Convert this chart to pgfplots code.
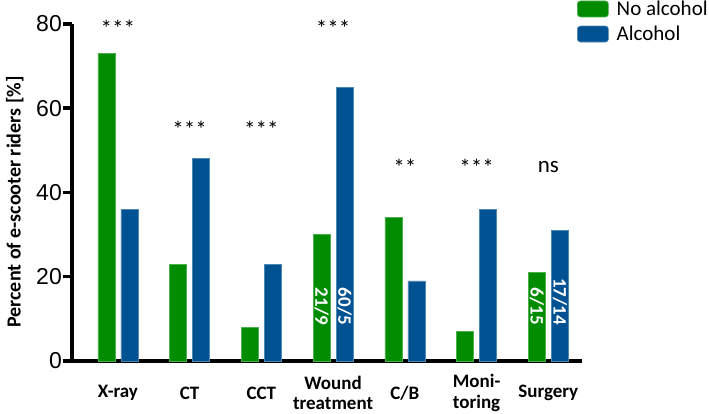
\documentclass[border=0pt]{standalone}
\usepackage{pgfplots}
\pgfplotsset{compat=1.18}
\usepackage{fontspec}
\setmainfont{Carlito}
\newfontfamily\arialfont{Liberation Sans}
\definecolor{noalc}{RGB}{0,140,0}
\definecolor{alc}{RGB}{0,82,147}
\begin{document}
\begin{tikzpicture}
\begin{axis}[
    at={(0,0)}, anchor=south west,
    scale only axis,
    width=510pt, height=337pt,
    ybar,
    bar width=17pt,
    xmin=-0.64, xmax=6.47,
    ymin=0, ymax=80,
    enlargelimits=false,
    clip=false,
    axis x line=bottom, axis y line=left,
    axis line style={line width=4.5pt, -, black},
    xtick={0,...,6},
    xticklabels={X-ray, CT, CCT, {Wound\\treatment}, C/B, {Moni-\\toring}, Surgery},
    xtick style={draw=none},
    xticklabel style={font=\bfseries\fontsize{19}{20.5}\selectfont, align=center, anchor=center, yshift=-23pt},
    ytick={0,20,40,60,80},
    tick align=outside,
    major tick length=9pt,
    ytick style={line width=3.5pt, black},
    /pgf/number format/assume math mode=true,
    yticklabel style={font=\arialfont\fontsize{23}{23}\selectfont, anchor=east, inner sep=1pt},
    ylabel={Percent of e-scooter riders [\%]},
    ylabel style={font=\bfseries\fontsize{20}{20}\selectfont, at={(axis description cs:-0.112,0.472)}, anchor=center},
    legend style={at={(axis description cs:0.99,1.075)}, anchor=north west, draw=none, fill=none,
        inner sep=0pt, font=\fontsize{21}{21}\selectfont, row sep=5pt, column sep=6pt},
    legend cell align=left,
    legend image code/.code={\draw[#1, rounded corners=3pt] (0pt,-8pt) rectangle (31pt,8pt);},
]
\addplot[fill=noalc, draw=noalc!70!white, line width=0.6pt, bar shift=-11.5pt]
    coordinates {(0,73) (1,23) (2,8) (3,30) (4,34) (5,7) (6,21)};
\addlegendentry{No alcohol}
\addplot[fill=alc, draw=alc!70!white, line width=0.6pt, bar shift=11.5pt]
    coordinates {(0,36) (1,48) (2,23) (3,65) (4,19) (5,36) (6,31)};
\addlegendentry{Alcohol}
% significance marks
\tikzset{sig/.style={font=\fontsize{23}{23}\selectfont, inner sep=0pt, anchor=center}}
\node[sig] at (axis cs:0,79) {***};
\node[sig] at (axis cs:1,55) {***};
\node[sig] at (axis cs:2,55) {***};
\node[sig] at (axis cs:3,79) {***};
\node[sig] at (axis cs:4,46) {**};
\node[sig] at (axis cs:5,46) {***};
\node[sig] at (axis cs:6,46) {ns};
% counts inside bars
\tikzset{cnt/.style={font=\bfseries\fontsize{19}{19}\selectfont, text=white, rotate=-90, anchor=east, inner sep=0pt}}
\node[xshift=-11.5pt, cnt] at (axis cs:3,8.5) {21/9};
\node[xshift=11.5pt, cnt] at (axis cs:3,8.5) {60/5};
\node[xshift=-11.5pt, cnt] at (axis cs:6,8.5) {6/15};
\node[xshift=11.5pt, cnt] at (axis cs:6,8.5) {17/14};
\end{axis}
\pgfresetboundingbox
\useasboundingbox (-72pt,-53pt) rectangle (637pt,361pt);
\end{tikzpicture}
\end{document}
